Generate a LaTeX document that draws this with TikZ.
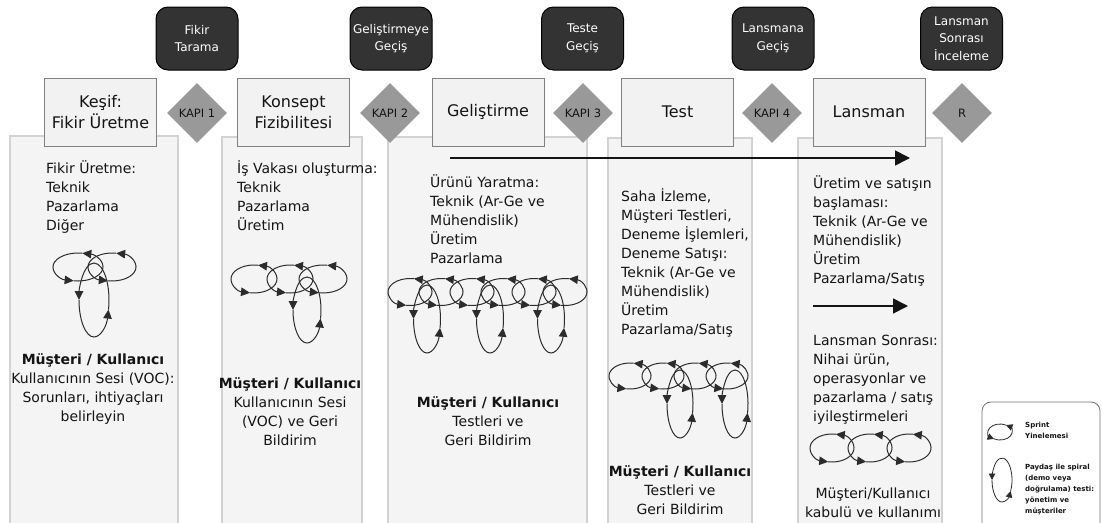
\documentclass[tikz,border=0pt]{standalone}
\usepackage{fontspec}
\setmainfont{DejaVu Sans}
\usetikzlibrary{shapes.geometric,arrows.meta}

\definecolor{gatefill}{HTML}{999999}
\definecolor{darkbox}{HTML}{333333}
\definecolor{panelfill}{HTML}{F4F4F4}
\definecolor{panelline}{HTML}{D2D2D2}
\definecolor{headfill}{HTML}{F2F2F2}
\definecolor{headline}{HTML}{808080}
\definecolor{ink}{HTML}{141414}
\definecolor{legendline}{HTML}{707070}

\newcommand{\fsz}[2]{\fontsize{#1}{#2}\selectfont}
\newcommand{\topstrut}{\rule{0pt}{14pt}}
\newcommand{\smallstrut}{\rule{0pt}{7.5pt}}

% horizontal sprint loop: centre x, centre y, x radius, y radius
\newcommand{\sprintloop}[4]{%
  \draw[loopline,shift={(#1,#2)}] (260:#3 and #4) arc[start angle=260,end angle=440,x radius=#3,y radius=#4];
  \draw[loopline,shift={(#1,#2)}] (80:#3 and #4) arc[start angle=80,end angle=260,x radius=#3,y radius=#4];
}
% vertical stakeholder spiral: centre x, centre y, x radius, y radius
\newcommand{\spiralloop}[4]{%
  \draw[loopline,shift={(#1,#2)}] (345:#3 and #4) arc[start angle=345,end angle=540,x radius=#3,y radius=#4];
  \draw[loopline,shift={(#1,#2)}] (180:#3 and #4) arc[start angle=180,end angle=345,x radius=#3,y radius=#4];
}

\tikzset{
  panel/.style={fill=panelfill, draw=panelline, line width=1.2pt},
  stagebox/.style={draw=headline, fill=headfill, line width=1pt, minimum width=112pt,
    minimum height=68pt, align=center, font=\fsz{16}{21}, text=ink, inner sep=0pt},
  gatebox/.style={diamond, fill=gatefill, minimum width=60pt, minimum height=60pt,
    inner sep=0pt, font=\fsz{11.5}{14}, text=ink},
  reviewbox/.style={rounded corners=12pt, fill=darkbox, draw=black, line width=1pt,
    minimum width=82pt, minimum height=63pt, align=center, text=white,
    font=\fsz{12}{17.5}, inner sep=0pt},
  bodytext/.style={align=left, anchor=north west, inner sep=0pt, font=\fsz{14}{19}, text=ink},
  voicetext/.style={align=center, anchor=north, inner sep=0pt, font=\fsz{14}{19}, text=ink},
  legendtext/.style={align=left, anchor=north west, inner sep=0pt, font=\fsz{7}{11}\bfseries, text=ink},
  loopline/.style={draw=ink!90, line width=1pt, -{Triangle[length=9pt,width=8.5pt]}},
  smallloop/.style={draw=ink!90, line width=0.8pt, -{Triangle[length=6.5pt,width=6.5pt]}},
  flow/.style={line width=1.6pt, draw=ink, -{Triangle[length=15pt,width=15pt]}},
}

\begin{document}
\begin{tikzpicture}[x=1pt,y=1pt]
\useasboundingbox (0,0) rectangle (1102,-522);

% phase columns
\draw[panel] (10,-136) rectangle (178,-530);
\draw[panel] (222,-137) rectangle (362,-530);
\draw[panel] (388,-137) rectangle (587,-530);
\draw[panel] (608,-138) rectangle (752,-530);
\draw[panel] (798,-138) rectangle (942,-530);

% stage headers
\node[stagebox] (s1) at (100.5,-112) {Keşif:\\Fikir Üretme};
\node[stagebox] (s2) at (293.5,-112) {Konsept\\Fizibilitesi};
\node[stagebox] (s3) at (488,-112) {Geliştirme};
\node[stagebox] (s4) at (677.5,-112) {Test};
\node[stagebox] (s5) at (869,-112) {Lansman};

% gates
\node[gatebox] (g1) at (197,-113) {KAPI 1};
\node[gatebox] (g2) at (390,-113) {KAPI 2};
\node[gatebox] (g3) at (583,-113) {KAPI 3};
\node[gatebox] (g4) at (772,-113) {KAPI 4};
\node[gatebox] (g5) at (962,-113) {R};

% reviews above the gates
\node[reviewbox] (r1) at (197,-38.5) {Fikir\\Tarama};
\node[reviewbox] (r2) at (391,-38.5) {Geliştirmeye\\Geçiş};
\node[reviewbox] (r3) at (582.5,-38.5) {Teste\\Geçiş};
\node[reviewbox] (r4) at (773,-38.5) {Lansmana\\Geçiş};
\node[reviewbox] (r5) at (961.5,-38.5) {Lansman\\Sonrası\\İnceleme};

% activities
\node[bodytext] (t1) at (46,-159.1) {\topstrut Fikir Üretme:\\Teknik\\Pazarlama\\Diğer};
\node[bodytext] (t2) at (237,-159.1) {\topstrut İş Vakası oluşturma:\\Teknik\\Pazarlama\\Üretim};
\node[bodytext] (t3) at (430,-173.1) {\topstrut Ürünü Yaratma:\\Teknik (Ar-Ge ve\\Mühendislik)\\Üretim\\Pazarlama};
\node[bodytext] (t4) at (621,-187.1) {\topstrut Saha İzleme,\\Müşteri Testleri,\\Deneme İşlemleri,\\Deneme Satışı:\\Teknik (Ar-Ge ve\\Mühendislik)\\Üretim\\Pazarlama/Satış};
\node[bodytext] (t5) at (813,-174.1) {\topstrut Üretim ve satışın\\başlaması:\\Teknik (Ar-Ge ve\\Mühendislik)\\Üretim\\Pazarlama/Satış};
\node[bodytext] (t6) at (813,-331.1) {\topstrut Lansman Sonrası:\\Nihai ürün,\\operasyonlar ve\\pazarlama / satış\\iyileştirmeleri};

% customer involvement
\node[voicetext] (v1) at (93,-350.1) {\topstrut\textbf{Müşteri / Kullanıcı}\\Kullanıcının Sesi (VOC):\\Sorunları, ihtiyaçları\\belirleyin};
\node[voicetext] (v2) at (290,-374.1) {\topstrut\textbf{Müşteri / Kullanıcı}\\Kullanıcının Sesi\\(VOC) ve Geri\\Bildirim};
\node[voicetext] (v3) at (488,-393.1) {\topstrut\textbf{Müşteri / Kullanıcı}\\Testleri ve\\Geri Bildirim};
\node[voicetext] (v4) at (680,-462.1) {\topstrut\textbf{Müşteri / Kullanıcı}\\Testleri ve\\Geri Bildirim};
\node[voicetext] (v5) at (873,-484.1) {\topstrut Müşteri/Kullanıcı\\kabulü ve kullanımı};

% flow arrows
\coordinate (flowstart) at (450,-158);
\coordinate (flowend) at (910,-158);
\draw[flow] (flowstart) -- (flowend);
\coordinate (launchstart) at (813,-306);
\coordinate (launchend) at (908,-306);
\draw[flow] (launchstart) -- (launchend);

% iteration loops, column 1
\sprintloop{78}{-267}{25}{14}
\sprintloop{112}{-267}{24}{14}
\spiralloop{94}{-300}{15}{37}

% column 2
\sprintloop{254}{-279}{23}{14}
\sprintloop{290}{-279}{23}{14}
\sprintloop{323}{-279}{24}{14}
\spiralloop{307}{-310}{14}{33}

% column 3
\foreach \cx in {410,441,472,503,534,565}{\sprintloop{\cx}{-292}{22}{13.5}}
\foreach \cx in {427,490,551}{\spiralloop{\cx}{-319}{13.5}{34}}

% column 4
\foreach \cx in {630,663,695,727}{\sprintloop{\cx}{-376}{21}{13}}
\spiralloop{680}{-404}{13}{34}
\spiralloop{735}{-404}{13}{34}

% column 5
\foreach \cx in {832,870,909}{\sprintloop{\cx}{-448}{22}{14}}

% legend
\draw[draw=legendline, fill=white, line width=0.8pt, rounded corners=9pt] (982,-402) rectangle (1100,-540);
\draw[smallloop,shift={(1000,-432)}] (240:12 and 8) arc[start angle=240,end angle=420,x radius=12,y radius=8];
\draw[smallloop,shift={(1000,-432)}] (60:12 and 8) arc[start angle=60,end angle=240,x radius=12,y radius=8];
\draw[smallloop,shift={(1002,-480)}] (330:10 and 22) arc[start angle=330,end angle=540,x radius=10,y radius=22];
\draw[smallloop,shift={(1002,-480)}] (180:10 and 22) arc[start angle=180,end angle=330,x radius=10,y radius=22];
\node[legendtext] (k1) at (1025,-420) {\smallstrut Sprint\\Yinelemesi};
\node[legendtext] (k2) at (1025,-462) {\smallstrut Paydaş ile spiral\\(demo veya\\doğrulama) testi:\\yönetim ve\\müşteriler};
\end{tikzpicture}
\end{document}
